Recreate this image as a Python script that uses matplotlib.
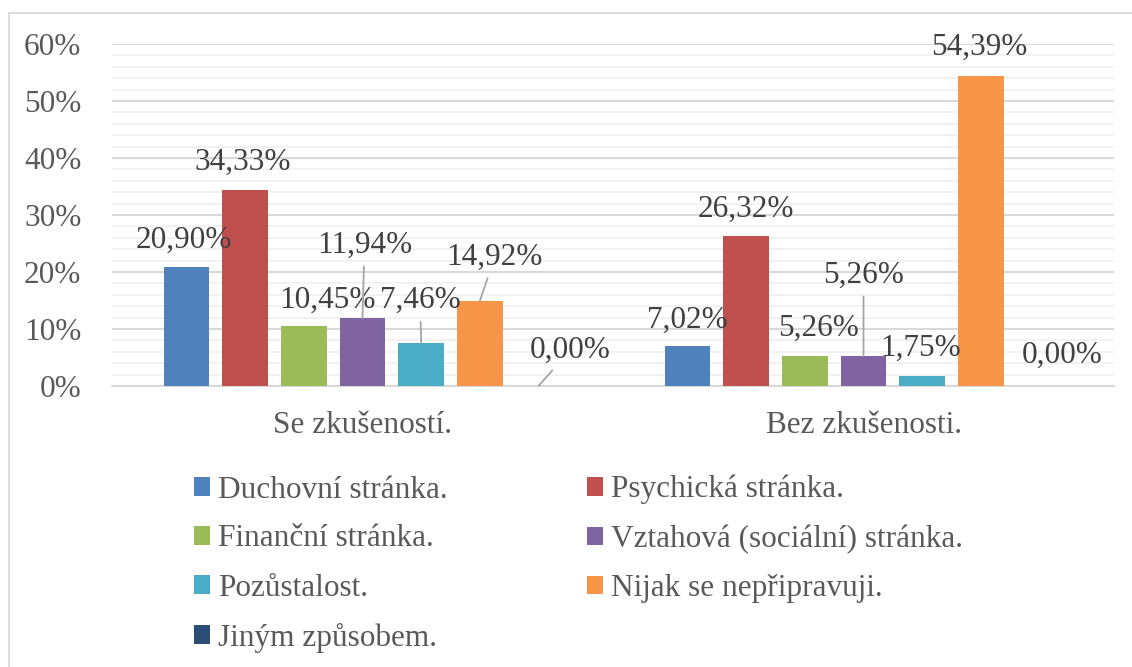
import numpy as np
import matplotlib
matplotlib.use('Agg')
import matplotlib.pyplot as plt
from matplotlib.patches import Rectangle
from matplotlib.ticker import MultipleLocator, FuncFormatter

plt.rcParams['font.family'] = ['Liberation Serif', 'DejaVu Serif']

# data
groups = ['Se zkušeností.', 'Bez zkušenosti.']
series = ['Duchovní stránka.', 'Psychická stránka.', 'Finanční stránka.',
          'Vztahová (sociální) stránka.', 'Pozůstalost.', 'Nijak se nepřipravuji.',
          'Jiným způsobem.']
se_zkusenosti = [20.90, 34.33, 10.45, 11.94, 7.46, 14.92, 0.00]
bez_zkusenosti = [7.02, 26.32, 5.26, 5.26, 1.75, 54.39, 0.00]
colors = ['#4F81BD', '#C0504D', '#9BBB59', '#8064A2', '#4BACC6', '#F79646', '#2C4D75']

# posun popisku (px) vuci stredu a vrcholu sloupce + zda kreslit vodici caru
label_off = [
    [(-3, 27, False), (-2, 28, False), (24, 26, False), (2, 73, True),
     (-1, 43, True), (15, 44, True), (32, 36, True)],
    [(0, 26, False), (0, 27, False), (14, 28, False), (0, 81, True),
     (-2, 28, False), (-2, 29, False), (23, 31, False)],
]

FS = 22.5
fig = plt.figure(figsize=(11.32, 6.67), dpi=100)
ax = fig.add_axes([112/1132, 1-386/667, (1114-112)/1132, (386-44)/667])

step = 0.1171
width = 0.0918
x = np.arange(len(groups))
values = np.array([se_zkusenosti, bez_zkusenosti]) / 100

handles = []
for i, name in enumerate(series):
    pos = x + (i - 3) * step
    b = ax.bar(pos, values[:, i], width, color=colors[i], label=name, zorder=3)
    handles.append(b)
    for g in range(len(groups)):
        v = values[g, i]
        dx, dy, lead = label_off[g][i]
        txt = f'{v*100:.2f}%'.replace('.', ',')
        ap = None
        if lead:
            ap = dict(arrowstyle='-', color='#A6A6A6', lw=1.3, shrinkA=3, shrinkB=0)
        ax.annotate(txt, xy=(pos[g], v), xytext=(dx, dy), textcoords='offset pixels',
                    ha='center', va='center', fontsize=FS, color='#404040',
                    arrowprops=ap, zorder=4)

ax.set_xlim(-0.5, 1.5)
ax.set_ylim(0, 0.6)
ax.yaxis.set_major_locator(MultipleLocator(0.1))
ax.yaxis.set_minor_locator(MultipleLocator(0.02))
ax.yaxis.set_major_formatter(FuncFormatter(lambda v, p: f'{v*100:.0f}%'))
ax.grid(which='major', axis='y', color='#D9D9D9', lw=1.5, zorder=0)
ax.grid(which='minor', axis='y', color='#F2F2F2', lw=1.5, zorder=0)
ax.set_xticks(x)
ax.set_xticklabels(groups)
ax.tick_params(axis='x', length=0, pad=18, labelsize=FS, labelcolor='#595959')
ax.tick_params(axis='y', which='both', length=0, pad=22, labelsize=FS, labelcolor='#595959')
for s in ['top', 'right', 'left']:
    ax.spines[s].set_visible(False)
ax.spines['bottom'].set_color('#D9D9D9')
ax.spines['bottom'].set_linewidth(1.5)

# legenda po radcich (matplotlib plni po sloupcich)
order = [0, 2, 4, 6, 1, 3, 5]
fig.legend([handles[k] for k in order], [series[k] for k in order],
           loc='upper left', bbox_to_anchor=(194/1132, 1-475/667), ncol=2,
           frameon=False, fontsize=FS, labelcolor='#595959',
           handlelength=0.52, handleheight=0.52, handletextpad=0.25,
           labelspacing=0.64, columnspacing=4.45, borderpad=0, borderaxespad=0)

# ramecek kolem grafu
fig.patches.append(Rectangle((9/1132, -0.1), 1.2, 1-13/667+0.1, transform=fig.transFigure,
                             fill=False, edgecolor='#D9D9D9', lw=1.3))

fig.savefig('out.png', dpi=100)
